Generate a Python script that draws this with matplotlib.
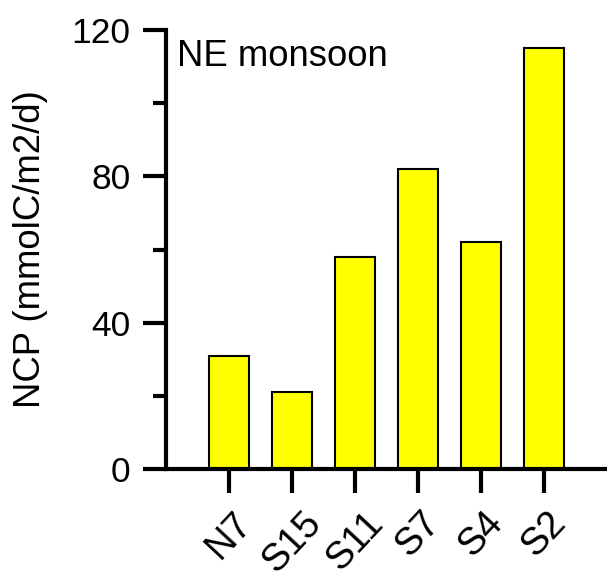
import matplotlib
matplotlib.use("Agg")
import matplotlib.pyplot as plt
from matplotlib.ticker import MultipleLocator

stations = ["N7", "S15", "S11", "S7", "S4", "S2"]
ncp = [31, 21, 58, 82, 62, 115]
yticks = [0, 40, 80, 120]

plt.rcParams['font.family'] = ['Liberation Sans', 'DejaVu Sans']

fig = plt.figure(figsize=(6.07, 5.79), dpi=100)
ax = fig.add_axes([166/607, 1 - 469/579, 441/607, 439/579])

x = list(range(len(stations)))
ax.bar(x, ncp, width=0.62, color="#FFFF00", edgecolor="black", linewidth=1.5, zorder=2)

ax.set_xlim(-1, 6)
ax.set_ylim(0, 120)
ax.set_yticks(yticks)
ax.yaxis.set_minor_locator(MultipleLocator(20))
ax.set_xticks(x)
ax.set_xticklabels(stations, rotation=47, ha="center", va="top", fontsize=27.5)

for s in ["top", "right"]:
    ax.spines[s].set_visible(False)
for s in ["left", "bottom"]:
    ax.spines[s].set_linewidth(3)
    ax.spines[s].set_zorder(3)

ax.tick_params(axis="y", which="major", length=16.5, width=3, labelsize=25.5, pad=9)
ax.tick_params(axis="x", which="major", length=17, width=3, pad=9)
ax.tick_params(axis="y", which="minor", length=9.5, width=3)

ax.set_ylabel("NCP (mmolC/m2/d)", fontsize=26.3, labelpad=17)

ax.text(0.025, 0.918, "NE monsoon", transform=ax.transAxes, fontsize=26.3,
        ha="left", va="baseline")

fig.savefig("out.png", dpi=100)
